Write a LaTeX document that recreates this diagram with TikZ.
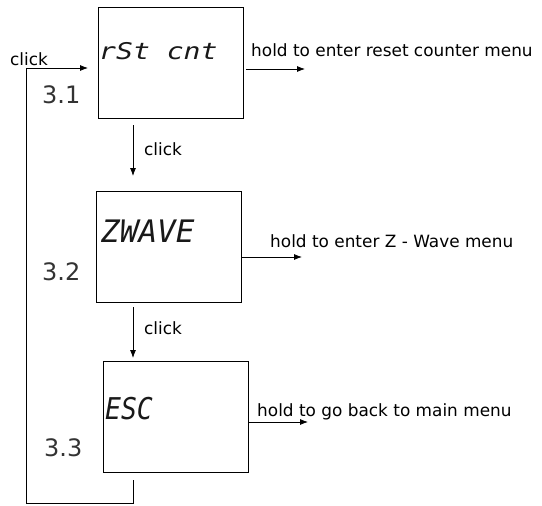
\documentclass[tikz,border=0pt]{standalone}
\usepackage{fontspec}
\usetikzlibrary{arrows.meta}
\setmainfont{DejaVu Sans}
\newfontfamily\segfont{DejaVu Sans Mono Oblique}
\begin{document}
\begin{tikzpicture}[x=1pt,y=-1pt,
  box/.style={draw, line width=0.9pt, minimum width=145pt, minimum height=111pt, inner sep=0pt},
  arr/.style={-{Latex[length=8pt,width=6pt]}, line width=0.8pt},
  conn/.style={line width=0.8pt},
  lbl/.style={font=\fontsize{16.9}{19}\selectfont, inner sep=0pt, anchor=west},
  num/.style={font=\fontsize{24}{26}\selectfont, inner sep=0pt, anchor=west, text=black!80},
  seg/.style={inner sep=0pt, anchor=west, text=black!90}
]
\useasboundingbox (0,0) rectangle (542,506);
% boxes
\node[box] (b1) at (170.5,62.5) {};
\node[box] (b2) at (169,246.5) {};
\node[box] (b3) at (175.5,416.5) {};
% display texts
\node[seg, font=\segfont\fontsize{23}{25}\selectfont, xscale=1.22] (t1) at (99,51) {rSt cnt};
\node[seg, font=\segfont\fontsize{31}{33}\selectfont] (t2) at (101,231) {ZWAVE};
\node[seg, font=\segfont\fontsize{30}{32}\selectfont, xscale=0.88] (t3) at (105,409) {ESC};
% numbers
\node[num] (n1) at (42,95) {3.1};
\node[num] (n2) at (42,272) {3.2};
\node[num] (n3) at (44,448) {3.3};
% click arrows
\coordinate (d1s) at (133,125);
\coordinate (d1e) at (133,176);
\coordinate (d2s) at (133,307);
\coordinate (d2e) at (133,358);
\draw[arr] (d1s) -- (d1e);
\draw[arr] (d2s) -- (d2e);
\node[lbl] (c2) at (144,149) {click};
\node[lbl] (c3) at (144,328) {click};
% loop back
\coordinate (l0) at (133,480);
\coordinate (l1) at (133,503);
\coordinate (l2) at (26,503);
\coordinate (l3) at (26,68);
\coordinate (l4) at (88,68);
\draw[conn] (l0) -- (l1) -- (l2) -- (l3);
\draw[arr] (l3) -- (l4);
\node[lbl] (c1) at (10,59) {click};
% hold arrows
\coordinate (h1s) at (246,69);
\coordinate (h1e) at (305,69);
\coordinate (h2s) at (b2.east |- 0,257);
\coordinate (h2e) at (302,257);
\coordinate (h3s) at (b3.east |- 0,422);
\coordinate (h3e) at (308,422);
\draw[arr] (h1s) -- (h1e);
\draw[arr] (h2s) -- (h2e);
\draw[arr] (h3s) -- (h3e);
\node[lbl] (o1) at (251,50) {hold to enter reset counter menu};
\node[lbl] (o2) at (270,241) {hold to enter Z - Wave menu};
\node[lbl] (o3) at (257,412) {hold to go back to main menu};
\end{tikzpicture}
\end{document}
